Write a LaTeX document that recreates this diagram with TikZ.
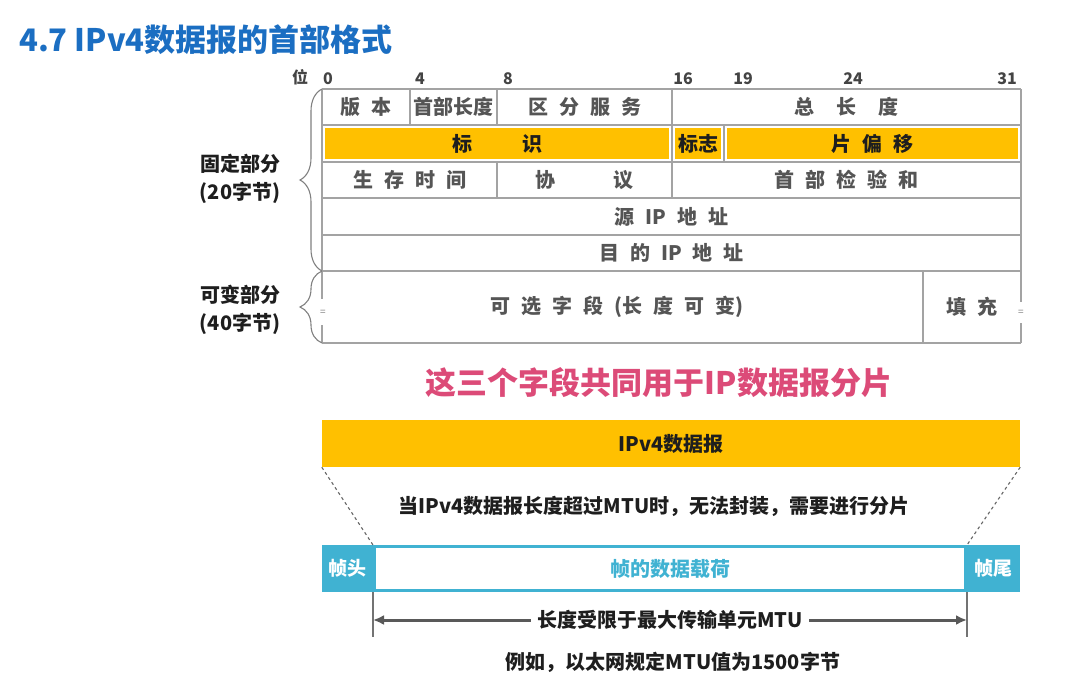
\documentclass[tikz,border=0pt]{standalone}
\usepackage{fontspec}
\setmainfont{Noto Sans CJK SC}
\usetikzlibrary{decorations.pathreplacing,arrows.meta}
\definecolor{titleblue}{HTML}{1B6EC2}
\definecolor{ygold}{HTML}{FFC000}
\definecolor{cyanf}{HTML}{40B2D2}
\definecolor{pinkt}{HTML}{DC4B78}
\definecolor{gridc}{HTML}{A3A3A3}
\definecolor{celltxt}{HTML}{555555}
\definecolor{darkt}{HTML}{1E1E1E}
\newcommand{\gp}{\hspace{0.55em}}
\begin{document}
\begin{tikzpicture}[x=1pt,y=-1pt,
  gridl/.style={draw=gridc, line width=1.3pt},
  cell/.style={font=\fontsize{20}{20}\selectfont\bfseries, text=celltxt, inner sep=0pt},
  ycell/.style={fill=ygold, draw=none, inner sep=0pt, minimum height=31pt,
     font=\fontsize{20}{20}\selectfont\bfseries, text=darkt},
  bitlbl/.style={font=\fontsize{16}{16}\selectfont\bfseries, text=celltxt!80!black, inner sep=0pt},
  side/.style={font=\fontsize{20}{28}\selectfont\bfseries, text=darkt, inner sep=0pt, align=center},
  bracestyle/.style={draw=gray, line width=1.1pt, decorate, decoration={brace, amplitude=22pt}},
  plain/.style={font=\fontsize{20}{20}\selectfont\bfseries, text=darkt, inner sep=0pt},
  cyanbox/.style={fill=cyanf, draw=none, minimum height=47pt, inner sep=0pt,
     font=\fontsize{19}{19}\selectfont\bfseries, text=white},
  breakmark/.style={font=\fontsize{10}{10}\selectfont, text=gray, inner sep=0pt}
]
\useasboundingbox (0,0) rectangle (1066,699);

% title
\node[anchor=west, font=\fontsize{31}{31}\selectfont\bfseries, text=titleblue, inner sep=0pt] (title) at (19,40) {4.7 IPv4数据报的首部格式};

% bit labels
\node[bitlbl] (bw) at (300,77) {位};
\node[bitlbl] (b0) at (328,79) {0};
\node[bitlbl] (b4) at (420,79) {4};
\node[bitlbl] (b8) at (508,79) {8};
\node[bitlbl] (b16) at (683,79) {16};
\node[bitlbl] (b19) at (743,79) {19};
\node[bitlbl] (b24) at (853,79) {24};
\node[bitlbl] (b31) at (1007,79) {31};

% yellow fills (row 2)
\node[ycell, minimum width=344pt] (ident) at (497,143.5) {标\hspace{2.5em}识};
\node[ycell, minimum width=46pt] (flag) at (698,143.5) {标志};
\node[ycell, minimum width=291pt] (frag) at (872.5,143.5) {片\gp 偏\gp 移};

% grid: horizontal lines
\foreach \yy in {89,125,162,198,235,271,343}
  \draw[gridl] (322,\yy) -- (1021,\yy);
% outer verticals (with breaks in the options row)
\draw[gridl] (322,89) -- (322,299);
\draw[gridl] (322,325) -- (322,343);
\draw[gridl] (1021,89) -- (1021,302);
\draw[gridl] (1021,323) -- (1021,343);
% inner verticals
\draw[gridl] (410,89) -- (410,125);
\draw[gridl] (497,89) -- (497,125);
\draw[gridl] (672,89) -- (672,125);
\draw[gridl] (672,125) -- (672,162);
\draw[gridl] (724,125) -- (724,162);
\draw[gridl] (497,162) -- (497,198);
\draw[gridl] (672,162) -- (672,198);
\draw[gridl] (923,271) -- (923,343);

% break marks
\node[breakmark] (bml) at (323,313) {=};
\node[breakmark] (bmr) at (1021,313) {=};

% cell texts
\node[cell] (ver) at (366,107) {版\gp 本};
\node[cell] (hlen) at (453.5,107) {首部长度};
\node[cell] (ds) at (584.5,107) {区\gp 分\gp 服\gp 务};
\node[cell] (tlen) at (846.5,107) {总\hspace{1.1em}长\hspace{1.1em}度};
\node[cell] (ttl) at (409.5,180) {生\gp 存\gp 时\gp 间};
\node[cell] (proto) at (584.5,180) {协\hspace{2.9em}议};
\node[cell] (csum) at (846.5,180) {首\gp 部\gp 检\gp 验\gp 和};
\node[cell] (src) at (671.5,216.5) {源\gp IP\gp 地\gp 址};
\node[cell] (dst) at (671.5,253) {目\gp 的\gp IP\gp 地\gp 址};
\node[cell] (opt) at (617,307) {可\gp 选\gp 字\gp 段\gp (长\gp 度\gp 可\gp 变)};
\node[cell] (pad) at (972,307) {填\gp 充};

% braces and side labels
\draw[bracestyle] (322,271) -- (322,89);
\draw[bracestyle] (322,343) -- (322,271);
\node[side] (fixed) at (240,179) {固定部分\\(20字节)};
\node[side] (var) at (240,310) {可变部分\\(40字节)};

% pink statement
\node[font=\fontsize{31}{31}\selectfont\bfseries, text=pinkt, inner sep=0pt] (pink) at (659,383) {这三个字段共同用于IP数据报分片};

% IPv4 datagram bar
\node[fill=ygold, minimum width=698pt, minimum height=47pt, inner sep=0pt,
      font=\fontsize{20}{20}\selectfont\bfseries, text=darkt] (ipv4) at (671,443.5) {IPv4数据报};

\node[plain] (note1) at (654,506) {当IPv4数据报长度超过MTU时，无法封装，需要进行分片};

% frame
\node[cyanbox, minimum width=51pt] (fh) at (347.5,568.5) {帧头};
\node[draw=cyanf, line width=3pt, minimum width=591pt, minimum height=44pt, inner sep=0pt,
      font=\fontsize{20}{20}\selectfont\bfseries, text=cyanf] (pl) at (670,568.5) {帧的数据载荷};
\node[cyanbox, minimum width=53pt] (ft) at (993.5,568.5) {帧尾};

% dashed projection lines
\draw[dashed, draw=black!60, line width=1.1pt] (ipv4.south west) -- (pl.north west);
\draw[dashed, draw=black!60, line width=1.1pt] (ipv4.south east) -- (pl.north east);

% dimension lines
\coordinate (dl) at (373,637);
\coordinate (dr) at (967,637);
\coordinate (al) at (373,620);
\coordinate (ar) at (967,620);
\draw[draw=black!55, line width=1.4pt] (pl.south west) -- (dl);
\draw[draw=black!55, line width=1.4pt] (pl.south east) -- (dr);
\draw[draw=black!65, line width=3pt, {Latex[length=11pt,width=10pt]}-{Latex[length=11pt,width=10pt]}] (al) -- (ar)
  node[midway, fill=white, inner xsep=6pt, inner ysep=2pt, font=\fontsize{20}{20}\selectfont\bfseries, text=darkt] (mtu) {长度受限于最大传输单元MTU};

\node[plain] (note2) at (673,662) {例如，以太网规定MTU值为1500字节};
\end{tikzpicture}
\end{document}
